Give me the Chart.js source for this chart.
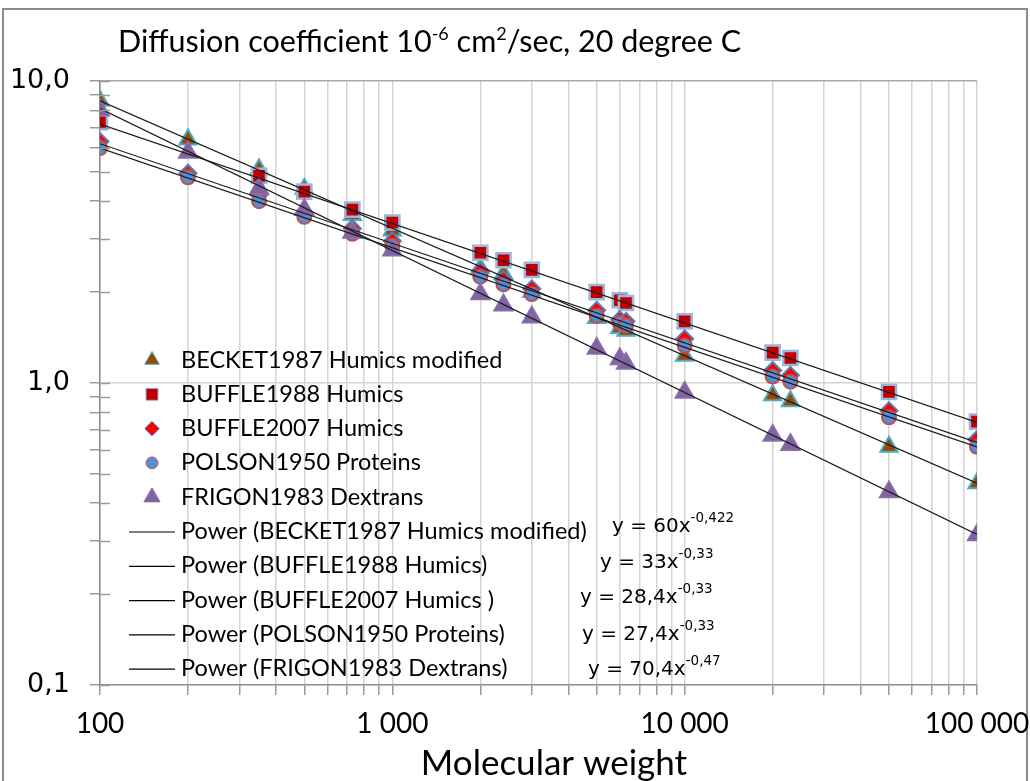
<!DOCTYPE html>
<html><head><meta charset="utf-8">
<script src="https://cdn.jsdelivr.net/npm/chart.js@4/dist/chart.umd.min.js"></script>
<style>html,body{margin:0;padding:0;background:#fff}</style>
</head><body>
<canvas id="c" width="1030" height="781"></canvas>
<script>
// ---- data ----
const molWeight = [100, 200, 350, 500, 730, 1000, 2000, 2400, 3000, 5000, 6000, 6300, 10000, 20000, 23000, 50000, 100000];
const becket1987 = [8.6, 6.4, 5.1, 4.4, 3.6, 3.2, 2.4, 2.3, 2.0, 1.64, 1.52, 1.49, 1.23, 0.91, 0.87, 0.615, 0.466];
const buffle1988 = [7.3, null, 4.85, 4.3, 3.75, 3.4, 2.7, 2.55, 2.37, 2.0, 1.88, 1.84, 1.6, 1.26, 1.21, 0.935, 0.745];
const buffle2007 = [6.3, 4.95, 4.2, 3.65, 3.25, 2.95, 2.35, 2.2, 2.05, 1.74, 1.62, 1.6, 1.4, 1.1, 1.06, 0.81, 0.65];
const polson1950 = [6.0, 4.8, 4.0, 3.55, 3.12, 2.85, 2.25, 2.12, 1.97, 1.67, 1.58, 1.55, 1.33, 1.05, 1.01, 0.77, 0.615];
const frigon1983 = [8.0, 5.8, 4.4, 3.75, 3.15, 2.75, 1.97, 1.81, 1.65, 1.3, 1.2, 1.16, 0.93, 0.67, 0.625, 0.436, 0.314];

const seriesNames = ['BECKET1987 Humics modified', 'BUFFLE1988 Humics', 'BUFFLE2007 Humics', 'POLSON1950 Proteins', 'FRIGON1983 Dextrans'];
const trendNames = ['Power (BECKET1987 Humics modified)', 'Power (BUFFLE1988 Humics)', 'Power (BUFFLE2007 Humics )', 'Power (POLSON1950 Proteins)', 'Power (FRIGON1983 Dextrans)'];
// trend line end values read at x = 100 and x = 100 000
const trendX = [100, 100000];
const trendStart = [8.6, 7.2, 6.2, 6.0, 8.1];
const trendEnd = [0.466, 0.74, 0.636, 0.614, 0.315];
const eqCoef = ['60', '33', '28,4', '27,4', '70,4'];
const eqExp = ['-0,422', '-0,33', '-0,33', '-0,33', '-0,47'];

const xTickLabels = {100: '100', 1000: '1 000', 10000: '10 000', 100000: '100 000'};
const yTickLabels = {'0.1': '0,1', '1': '1,0', '10': '10,0'};
const xAxisTitle = 'Molecular weight';

// ---- styles ----
const styles = [
  {pointStyle: 'triangle', radius: 10, bg: '#984807', border: '#4bacc6', bw: 2, order: 5},
  {pointStyle: 'rect', radius: 10, bg: '#c00000', border: '#9bb7e0', bw: 2.5, order: 4},
  {pointStyle: 'rectRot', radius: 8.5, bg: '#ff0000', border: '#4f81bd', bw: 2, order: 3},
  {pointStyle: 'circle', radius: 7, bg: '#558ed5', border: '#c0504d', bw: 2, order: 2},
  {pointStyle: 'triangle', radius: 11, bg: '#8064a2', border: '#8a70ab', bw: 1.5, order: 1}
];
const seriesData = [becket1987, buffle1988, buffle2007, polson1950, frigon1983];

const datasets = [];
seriesData.forEach((arr, i) => {
  const s = styles[i];
  datasets.push({
    label: seriesNames[i],
    data: molWeight.map((x, k) => arr[k] == null ? null : {x: x, y: arr[k]}).filter(p => p),
    pointStyle: s.pointStyle, pointRadius: s.radius, pointBackgroundColor: s.bg,
    pointBorderColor: s.border, pointBorderWidth: s.bw, showLine: false, order: s.order,
    _legend: 'marker'
  });
});
trendNames.forEach((name, i) => {
  datasets.push({
    label: name,
    data: [{x: trendX[0], y: trendStart[i]}, {x: trendX[1], y: trendEnd[i]}],
    showLine: true, borderColor: '#1a1a1a', borderWidth: 1.2, pointRadius: 0, order: 0,
    _legend: 'line'
  });
});

function logTicks(min, max) {
  const out = [];
  for (let e = Math.round(Math.log10(min)); e < Math.round(Math.log10(max)); e++) {
    for (let m = 1; m < 10; m++) out.push(+(m * Math.pow(10, e)).toPrecision(6));
  }
  out.push(max);
  return out;
}

const decor = {
  id: 'decor',
  beforeDraw(chart) {
    const ctx = chart.ctx;
    ctx.save();
    ctx.strokeStyle = '#8c8c8c';
    ctx.lineWidth = 2;
    ctx.strokeRect(3, 9, 1024, 800);
    ctx.restore();
  },
  afterDraw(chart) {
    const ctx = chart.ctx;
    const ys = chart.scales.y, xs = chart.scales.x;
    ctx.save();
    // inward part of y ticks
    ctx.strokeStyle = '#9a9a9a'; ctx.lineWidth = 1.5;
    ys.ticks.forEach(t => {
      const py = Math.round(ys.getPixelForValue(t.value)) + 0.5;
      ctx.beginPath(); ctx.moveTo(xs.left, py); ctx.lineTo(xs.left + 10, py); ctx.stroke();
    });
    // title
    ctx.fillStyle = '#000';
    ctx.textBaseline = 'alphabetic';
    let x = 118; const base = 52;
    const big = '30.5px Lato', small = '18px Lato';
    const parts = [['Diffusion coefficient 10', big, 0], ['-6', small, -12], [' cm', big, 0], ['2', small, -12], ['/sec, 20 degree C', big, 0]];
    parts.forEach(p => { ctx.font = p[1]; ctx.fillText(p[0], x, base + p[2]); x += ctx.measureText(p[0]).width; });
    // x axis title
    ctx.font = '35px Lato';
    ctx.textAlign = 'center';
    ctx.fillText(xAxisTitle, 554, 775);
    ctx.textAlign = 'left';
    // legend
    const rowY0 = 360, step = 34.3;
    ctx.font = '23.5px Lato';
    ctx.textBaseline = 'middle';
    chart.data.datasets.forEach((ds, i) => {
      const y = rowY0 + i * step;
      if (ds._legend === 'marker') {
        ctx.fillStyle = ds.pointBackgroundColor; ctx.strokeStyle = ds.pointBorderColor; ctx.lineWidth = 1;
        Chart.helpers.drawPoint(ctx, {pointStyle: ds.pointStyle, radius: ds.pointRadius * 0.85, rotation: 0, borderWidth: 1}, 152, y);
      } else {
        ctx.strokeStyle = '#000'; ctx.lineWidth = 1.2;
        ctx.beginPath(); ctx.moveTo(129, y + 0.5); ctx.lineTo(175, y + 0.5); ctx.stroke();
      }
      ctx.fillStyle = '#000';
      ctx.fillText(ds.label, 181, y);
    });
    // equations
    const eqX = [612, 600, 580, 582, 588], eqY = [527, 563, 598, 635, 670];
    eqCoef.forEach((c, i) => {
      let ex = eqX[i];
      ctx.font = '20px "DejaVu Sans"';
      const t = 'y = ' + c + 'x';
      ctx.fillText(t, ex, eqY[i]);
      ex += ctx.measureText(t).width;
      ctx.font = '13.5px "DejaVu Sans"';
      ctx.fillText(eqExp[i], ex, eqY[i] - 9);
    });
    ctx.restore();
  }
};

new Chart(document.getElementById('c'), {
  type: 'scatter',
  data: {datasets},
  options: {
    responsive: false, animation: false,
    layout: {padding: {top: 81, right: 53, left: 0, bottom: 0}},
    plugins: {legend: {display: false}, tooltip: {enabled: false}, title: {display: false}},
    scales: {
      x: {
        type: 'logarithmic', position: 'bottom', min: 100, max: 100000,
        afterBuildTicks: s => { s.ticks = logTicks(100, 100000).map(v => ({value: v, major: !!xTickLabels[v]})); },
        afterFit: s => { s.height = 96; s.paddingLeft = 0; s.paddingRight = 0; },
        ticks: {autoSkip: false, maxRotation: 0, minRotation: 0, padding: 12, color: '#000',
          font: {family: 'Lato', size: 28},
          callback: v => xTickLabels[Math.round(v)] || ''},
        grid: {color: '#d4d4d4', lineWidth: 1.5, tickLength: 10, tickColor: '#9a9a9a', tickWidth: 1.5},
        border: {color: '#8c8c8c', width: 1.5},
        title: {display: false}
      },
      y: {
        type: 'logarithmic', min: 0.1, max: 10,
        afterBuildTicks: s => { s.ticks = logTicks(0.1, 10).map(v => ({value: v, major: !!yTickLabels[String(v)]})); },
        afterFit: s => { s.width = 100; s.paddingTop = 0; s.paddingBottom = 0; },
        ticks: {autoSkip: false, padding: 20, color: '#000', font: {family: 'DejaVu Sans', size: 27},
          callback: v => yTickLabels[String(+v.toPrecision(6))] || ''},
        grid: {
          color: c => (c.tick && c.tick.value === 10) ? '#a8a8a8' : (c.tick && c.tick.value === 1) ? '#d4d4d4' : 'rgba(0,0,0,0)',
          lineWidth: 1.5, tickLength: 10, tickColor: '#9a9a9a', tickWidth: 1.5},
        border: {color: '#8c8c8c', width: 1.5}
      }
    }
  },
  plugins: [decor]
});
</script>
</body></html>
